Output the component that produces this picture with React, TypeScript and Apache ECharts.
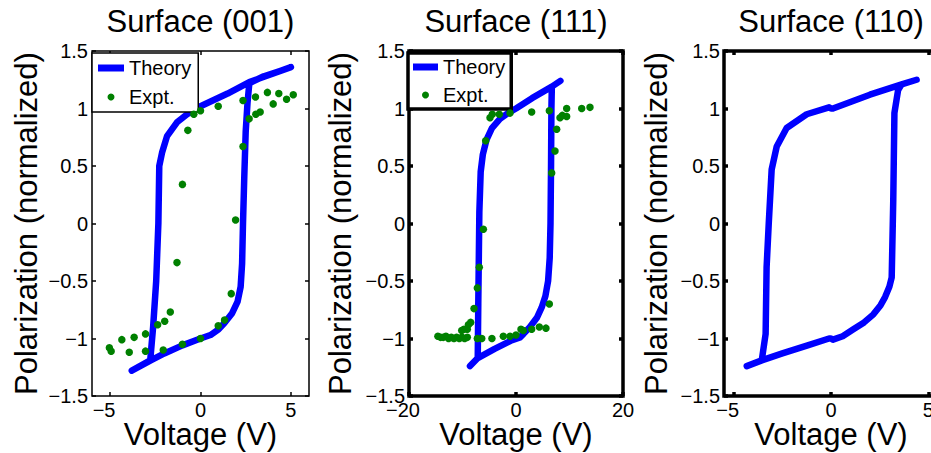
import React, { useEffect, useRef } from 'react';
import * as echarts from 'echarts';

const FONT = '"Liberation Sans", Arial, Helvetica, sans-serif';

const panelTitles = ['Surface (001)', 'Surface (111)', 'Surface (110)'];
const xAxisTitle = 'Voltage (V)';
const yAxisTitle = 'Polarization (normalized)';
const seriesNames = ['Theory', 'Expt.'];

const xRanges: [number, number][] = [[-6, 6], [-20, 20], [-5.5, 5.5]];
const xTickValues: number[][] = [[-5, 0, 5], [-20, 0, 20], [-5, 0, 5]];
const yRange: [number, number] = [-1.5, 1.5];
const yInterval = 0.5;

// Surface (001)
const theory001: [number, number][] = [
  [-3.8, -1.28], [-2.75, -1.19], [-2.0, -1.13], [-1.0, -1.06], [0, -1.0], [0.55, -0.97],
  [1.0, -0.92], [1.3, -0.87], [1.75, -0.78], [2.05, -0.68], [2.22, -0.55], [2.3, -0.35],
  [2.35, 0], [2.42, 0.4], [2.5, 0.8], [2.6, 1.05], [2.7, 1.22], [3.5, 1.28], [4.3, 1.32],
  [5.0, 1.36], [2.7, 1.23], [1.5, 1.13], [0, 1.02], [-0.74, 0.95], [-1.3, 0.88],
  [-1.85, 0.76], [-2.12, 0.62], [-2.28, 0.5], [-2.33, 0], [-2.45, -0.5], [-2.62, -0.9],
  [-2.78, -1.19], [-3.8, -1.28],
];
const expt001: [number, number][] = [
  [-5.04, -1.08], [-4.94, -1.11], [-4.35, -1.01], [-3.94, -1.12], [-3.67, -0.99],
  [-3.04, -0.96], [-3.04, -1.11], [-2.37, -0.88], [-2.06, -1.1], [-1.98, -0.85],
  [-1.67, -0.77], [-1.3, -0.34], [-1.0, -1.05], [-1.0, 0.34], [-0.7, 0.81], [-0.37, 0.95],
  [0, 0.98], [0, -1.0], [0.98, 1.02], [0.98, -0.89], [1.33, -0.84], [1.7, -0.61],
  [1.94, 0.03], [2.35, 0.67], [2.35, 1.07], [2.69, 0.91], [3.04, 1.1], [3.06, 0.95],
  [3.3, 0.97], [3.7, 1.14], [4.02, 1.04], [4.33, 1.13], [4.76, 1.08], [5.13, 1.12],
];

// Surface (111)
const theory111: [number, number][] = [
  [-8.6, -1.24], [-7.15, -1.17], [-4, -1.09], [-1, -1.02], [0.75, -0.99], [1.4, -0.96],
  [2.6, -0.9], [3.9, -0.82], [4.8, -0.73], [5.5, -0.63], [6.0, -0.5], [6.3, -0.3],
  [6.45, 0], [6.55, 0.5], [6.62, 1.0], [6.7, 1.19], [8.3, 1.24], [6.7, 1.19], [3, 1.09],
  [0, 1.0], [-1.5, 0.96], [-3, 0.91], [-4.5, 0.83], [-5.5, 0.73], [-6.2, 0.6],
  [-6.6, 0.45], [-6.85, 0.1], [-6.95, -0.3], [-7.05, -0.7], [-7.15, -1.17], [-8.6, -1.24],
];
const expt111: [number, number][] = [
  [-4.86, 0.92], [-4.43, 0.95], [-3.12, 0.95], [-1.12, 0.96], [2.93, 0.97], [6.23, 0.98],
  [-5.67, 0.72], [-6.1, -0.05], [7.6, 0.82], [7.29, 0.63], [6.67, 0.44], [8.22, 0.92],
  [8.66, 0.94], [9.47, 0.93], [9.47, 1.0], [12.28, 1.0], [13.83, 1.01],
  [-6.86, -0.38], [-7.23, -0.56], [-7.85, -0.74], [-8.47, -0.86], [-8.9, -0.88],
  [-9.1, -0.92], [-9.72, -0.92], [-10.15, -0.93],
  [-14.6, -0.98], [-14.1, -0.99], [-13.6, -0.99], [-13.1, -0.98], [-12.6, -1.0],
  [-12.1, -0.99], [-11.6, -1.0], [-11.1, -0.99], [-10.6, -1.0], [-10.1, -0.99],
  [-9.6, -1.0], [-9.1, -0.99], [-7.23, -1.0], [-6.4, -1.0], [-4.5, -1.0], [-2.37, -0.98],
  [-1.12, -0.98], [0, -0.97], [0.93, -0.92], [1.37, -0.93], [2.93, -0.92], [4.36, -0.9],
  [5.6, -0.91], [6.23, -0.7],
];

// Surface (110)
const theory110: [number, number][] = [
  [-4.33, -1.24], [-3.56, -1.19], [-2.5, -1.13], [-1.2, -1.06], [-0.1, -1.0], [0, -1.0],
  [0.1, -1.01], [0.6, -0.98], [1.15, -0.92], [1.7, -0.86], [2.18, -0.79], [2.55, -0.71],
  [2.78, -0.64], [3.0, -0.55], [3.12, -0.47], [3.2, 0.2], [3.26, 0.96], [3.45, 1.16],
  [3.63, 1.21], [4.4, 1.25], [3.63, 1.21], [2.0, 1.12], [0.1, 1.0], [0, 1.0], [-0.1, 1.01],
  [-1.25, 0.95], [-2.28, 0.83], [-2.79, 0.67], [-3.05, 0.47], [-3.2, 0.0], [-3.31, -0.38],
  [-3.36, -0.96], [-3.56, -1.19], [-4.33, -1.24],
];

const theoryData = [theory001, theory111, theory110];
const exptData: ([number, number][] | null)[] = [expt001, expt111, null];

const gridBoxes = [
  { left: 92, top: 51, width: 217, height: 345 },
  { left: 409, top: 51, width: 214, height: 345 },
  { left: 724, top: 51, width: 214, height: 345 },
];
const borderWidths = [1.5, 3.5, 3.5];
const yNameGaps = [50, 53, 52];

const fmt = (v: number) => (v < 0 ? '\u2212' + String(Math.abs(v)) : String(v));
// x labels: digits centred on the tick, minus sign hanging to the left (MATLAB style)
const fmtX = (v: number) => (v < 0 ? '{n|' + fmt(v) + '}' : '{p|' + fmt(v) + '}');

function buildOption() {
  const grid: any[] = [];
  const xAxis: any[] = [];
  const yAxis: any[] = [];
  const series: any[] = [];
  const title: any[] = [];

  const text = (size: number) => ({ fontSize: size, fontFamily: FONT, color: '#000', fontWeight: 'normal' });
  const noLine = { show: false, onZero: false };

  gridBoxes.forEach((g, i) => {
    const bw = borderWidths[i];
    grid.push({ ...g, show: true, borderColor: '#000', borderWidth: bw, backgroundColor: 'transparent', containLabel: false, outerBoundsMode: 'none' });
    const tickStyle = { show: true, inside: true, length: 4, lineStyle: { color: '#000', width: bw } };
    xAxis.push({
      type: 'value', gridIndex: i, position: 'bottom', min: xRanges[i][0], max: xRanges[i][1],
      axisLine: noLine, splitLine: { show: false },
      axisTick: { ...tickStyle, customValues: xTickValues[i] },
      axisLabel: {
        customValues: xTickValues[i], formatter: fmtX, margin: 4, hideOverlap: false, ...text(20),
        rich: { n: { ...text(20), padding: [0, 12, 0, 0] }, p: { ...text(20) } },
      },
      name: xAxisTitle, nameLocation: 'middle', nameGap: 23, nameMoveOverlap: false, nameTextStyle: text(31),
    });
    xAxis.push({
      type: 'value', gridIndex: i, position: 'top', min: xRanges[i][0], max: xRanges[i][1],
      axisLine: noLine, splitLine: { show: false },
      axisTick: { ...tickStyle, customValues: xTickValues[i] },
      axisLabel: { show: false },
    });
    yAxis.push({
      type: 'value', gridIndex: i, position: 'left', min: yRange[0], max: yRange[1], interval: yInterval,
      axisLine: noLine, splitLine: { show: false },
      axisTick: tickStyle,
      axisLabel: { formatter: fmt, margin: 4, ...text(20) },
      name: yAxisTitle, nameLocation: 'middle', nameGap: yNameGaps[i], nameMoveOverlap: false, nameTextStyle: text(31),
    });
    yAxis.push({
      type: 'value', gridIndex: i, position: 'right', min: yRange[0], max: yRange[1], interval: yInterval,
      axisLine: noLine, splitLine: { show: false },
      axisTick: tickStyle,
      axisLabel: { show: false },
    });
    series.push({
      type: 'line', name: seriesNames[0], xAxisIndex: i * 2, yAxisIndex: i * 2,
      data: theoryData[i], showSymbol: false, symbol: 'none', color: '#0000ff',
      itemStyle: { color: '#0000ff' },
      lineStyle: { color: '#0000ff', width: 6.5, cap: 'round', join: 'round' }, z: 3,
    });
    const ex = exptData[i];
    if (ex) {
      series.push({
        type: 'scatter', name: seriesNames[1], xAxisIndex: i * 2, yAxisIndex: i * 2,
        data: ex, symbol: 'circle', symbolSize: 7.5, color: '#008000',
        itemStyle: { color: '#008000', opacity: 1 }, z: 4,
      });
    }
    title.push({
      text: panelTitles[i], left: g.left + g.width / 2, top: 6, textAlign: 'center', textVerticalAlign: 'top',
      padding: 0, textStyle: text(31),
    });
  });

  const legendData = [{ name: seriesNames[0], icon: 'rect' }, { name: seriesNames[1], icon: 'circle' }];
  const legend = [
    {
      data: legendData, orient: 'vertical', left: 92, top: 53, padding: [5, 7, 5, 6],
      itemWidth: 26, itemHeight: 7, itemGap: 9, borderColor: '#000', borderWidth: 1.5,
      backgroundColor: '#fff', textStyle: text(20), selectedMode: false,
      itemStyle: { opacity: 1 },
    },
    {
      data: legendData, orient: 'vertical', left: 408, top: 53, padding: [4, 6, 4, 5],
      itemWidth: 25, itemHeight: 7, itemGap: 8, borderColor: '#000', borderWidth: 3.5,
      backgroundColor: '#fff', textStyle: text(20), selectedMode: false,
      itemStyle: { opacity: 1 },
    },
  ];

  return { animation: false, backgroundColor: '#fff', title, grid, xAxis, yAxis, series, legend };
}

export default function App() {
  const ref = useRef<HTMLDivElement>(null);
  useEffect(() => {
    const chart = echarts.init(ref.current!, null, { renderer: 'svg' });
    chart.setOption(buildOption() as any);
    return () => chart.dispose();
  }, []);
  return <div ref={ref} style={{ position: 'fixed', left: 0, top: 0, width: 931, height: 453 }} />;
}
